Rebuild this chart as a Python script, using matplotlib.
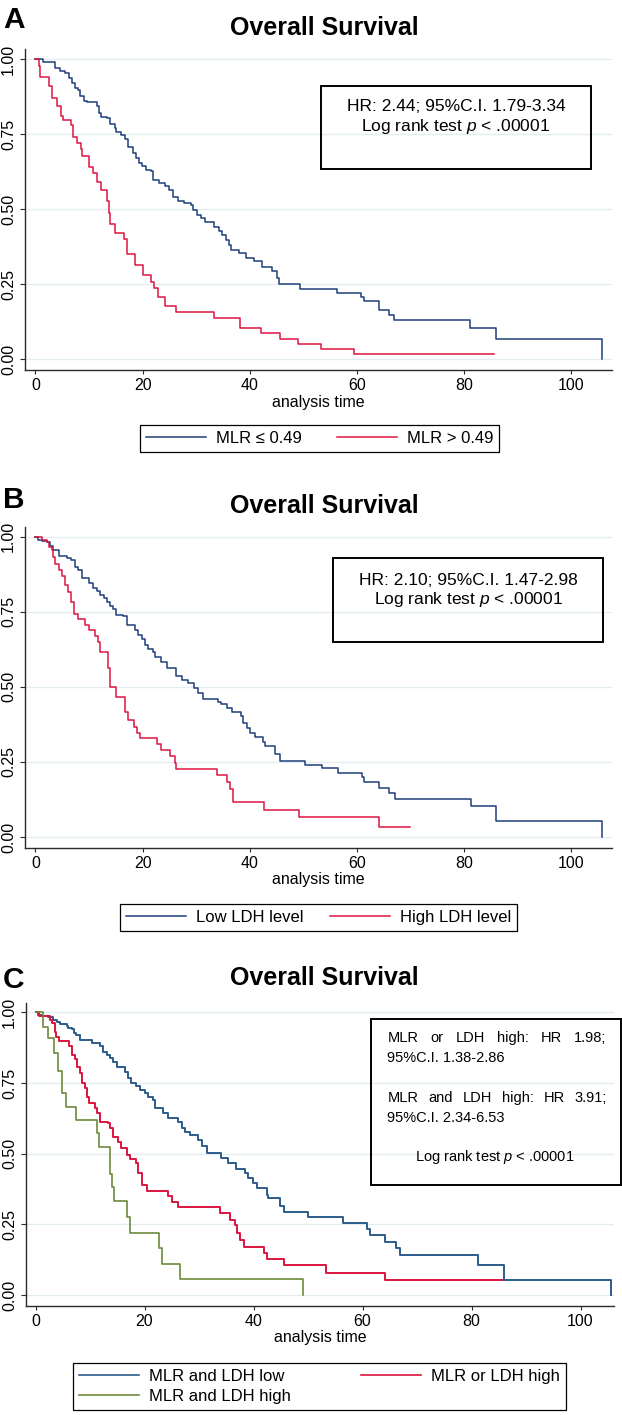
import matplotlib
matplotlib.use('Agg')
import matplotlib.pyplot as plt
from matplotlib.patches import Rectangle
from matplotlib.lines import Line2D

plt.rcParams['font.family'] = ['Liberation Sans', 'DejaVu Sans']
plt.rcParams['mathtext.fontset'] = 'custom'
plt.rcParams['mathtext.it'] = 'Liberation Sans:italic'
plt.rcParams['mathtext.rm'] = 'Liberation Sans'

# ---- data (time in months, survival) ----
# panel A: MLR
a_low_t = [0, 1.5, 3.7, 4.6, 5.6, 6.2, 6.8, 7.4, 8.0, 8.3, 9.0, 9.6, 11.4, 11.9, 12.3, 13.3, 13.9,
           14.8, 15.1, 16.0, 16.7, 17.3, 18.2, 18.8, 19.4, 19.9, 20.7, 21.6, 21.9, 23.1, 24.1, 25.0,
           25.6, 26.5, 27.8, 29.0, 29.3, 30.1, 30.9, 31.7, 33.0, 33.3, 34.3, 34.8, 35.5, 36.1, 36.4,
           38.0, 39.2, 40.7, 42.3, 44.1, 45.0, 45.4, 49.4, 56.3, 60.7, 61.2, 64.0, 65.9, 66.8, 81.1,
           85.9, 105.6]
a_low_s = [1.0, 0.99, 0.97, 0.962, 0.953, 0.937, 0.92, 0.903, 0.898, 0.876, 0.862, 0.856, 0.844,
           0.822, 0.809, 0.803, 0.784, 0.77, 0.759, 0.748, 0.733, 0.709, 0.689, 0.67, 0.653, 0.644,
           0.631, 0.626, 0.598, 0.589, 0.576, 0.564, 0.542, 0.529, 0.522, 0.514, 0.498, 0.481, 0.47,
           0.459, 0.456, 0.442, 0.429, 0.414, 0.398, 0.381, 0.364, 0.353, 0.337, 0.326, 0.309, 0.294,
           0.27, 0.251, 0.234, 0.222, 0.209, 0.194, 0.164, 0.148, 0.131, 0.103, 0.068, 0.0]
a_high_t = [0, 0.6, 0.8, 2.5, 3.1, 4.0, 4.8, 5.2, 6.6, 7.0, 7.7, 8.5, 8.6, 9.9, 10.8, 11.4, 12.2,
            12.3, 13.4, 13.8, 14.0, 14.8, 16.5, 17.1, 18.5, 20.1, 21.6, 22.2, 22.8, 24.1, 26.2, 33.4,
            38.2, 42.1, 45.7, 49.0, 53.2, 59.5, 85.6]
a_high_s = [1.0, 0.976, 0.942, 0.911, 0.87, 0.844, 0.811, 0.796, 0.781, 0.742, 0.72, 0.70, 0.676,
            0.642, 0.62, 0.592, 0.581, 0.564, 0.526, 0.487, 0.451, 0.42, 0.40, 0.351, 0.314, 0.281,
            0.259, 0.237, 0.209, 0.178, 0.156, 0.139, 0.103, 0.087, 0.068, 0.051, 0.033, 0.017, 0.017]

# panel B: LDH
b_low_t = [0, 0.5, 1.15, 2.1, 2.7, 3.3, 4.3, 5.8, 6.7, 7.4, 8.0, 8.6, 9.9, 10.8, 11.4, 12.0, 12.7,
           13.3, 13.9, 14.5, 15.1, 16.4, 17.0, 18.6, 19.2, 19.8, 20.4, 21.0, 22.0, 22.3, 23.5, 24.5,
           26.3, 27.3, 28.5, 29.6, 30.4, 31.3, 34.1, 34.7, 35.7, 36.6, 38.3, 38.8, 39.4, 40.0, 40.9,
           42.5, 42.8, 44.7, 45.6, 50.2, 53.4, 56.5, 60.9, 61.3, 64.1, 66.0, 67.1, 81.2, 86.0, 105.6]
b_low_s = [1.0, 0.989, 0.986, 0.981, 0.967, 0.956, 0.935, 0.929, 0.923, 0.90, 0.887, 0.861, 0.845,
           0.829, 0.817, 0.804, 0.795, 0.782, 0.768, 0.758, 0.74, 0.736, 0.707, 0.69, 0.671, 0.66,
           0.64, 0.625, 0.614, 0.60, 0.583, 0.561, 0.535, 0.522, 0.513, 0.497, 0.478, 0.459, 0.45,
           0.441, 0.428, 0.417, 0.403, 0.378, 0.362, 0.345, 0.334, 0.317, 0.303, 0.276, 0.252, 0.241,
           0.23, 0.213, 0.199, 0.183, 0.164, 0.147, 0.125, 0.103, 0.053, 0.0]
b_high_t = [0, 1.3, 2.1, 2.6, 3.0, 3.3, 3.6, 4.3, 4.9, 5.5, 6.1, 6.7, 7.2, 8.0, 9.2, 9.9, 11.1, 11.7,
            12.0, 13.6, 13.9, 15.1, 16.7, 17.3, 18.3, 18.9, 19.5, 22.6, 23.5, 25.1, 26.0, 26.3, 33.9,
            35.7, 36.2, 36.8, 42.7, 49.2, 64.0, 69.9]
b_high_s = [1.0, 0.987, 0.981, 0.965, 0.956, 0.931, 0.907, 0.889, 0.867, 0.837, 0.815, 0.782, 0.743,
            0.727, 0.705, 0.688, 0.669, 0.649, 0.614, 0.561, 0.50, 0.467, 0.417, 0.389, 0.367, 0.345,
            0.331, 0.31, 0.29, 0.269, 0.247, 0.227, 0.206, 0.183, 0.158, 0.116, 0.09, 0.067, 0.033,
            0.033]

# panel C: combined
c_low_t = [0, 0.5, 1.1, 2.3, 3.2, 3.9, 4.5, 5.7, 6.0, 6.6, 7.0, 7.5, 8.1, 10.3, 11.8, 12.4, 13.1,
           13.6, 14.3, 14.9, 16.4, 17.0, 17.6, 18.5, 19.1, 20.1, 20.7, 21.6, 21.9, 23.4, 24.3, 26.2,
           26.8, 27.4, 28.3, 29.8, 30.5, 31.4, 34.1, 35.4, 36.8, 38.4, 39.0, 39.9, 40.6, 42.4, 42.7,
           44.8, 45.5, 50.0, 56.5, 60.8, 61.3, 64.1, 66.1, 66.9, 81.2, 86.0, 105.5]
c_low_s = [1.0, 0.99, 0.987, 0.982, 0.973, 0.965, 0.958, 0.952, 0.946, 0.94, 0.928, 0.92, 0.902,
           0.893, 0.881, 0.861, 0.849, 0.837, 0.825, 0.808, 0.79, 0.767, 0.751, 0.739, 0.725, 0.713,
           0.699, 0.69, 0.66, 0.645, 0.625, 0.613, 0.59, 0.578, 0.566, 0.548, 0.527, 0.501, 0.486,
           0.466, 0.445, 0.43, 0.413, 0.395, 0.377, 0.354, 0.342, 0.315, 0.295, 0.277, 0.256, 0.232,
           0.212, 0.187, 0.167, 0.141, 0.105, 0.052, 0.0]
c_mid_t = [0, 0.7, 2.6, 3.1, 3.5, 3.8, 4.3, 6.2, 6.6, 7.2, 7.6, 8.1, 8.6, 9.0, 9.5, 9.8, 10.9, 11.3,
           11.9, 13.3, 13.6, 14.3, 15.2, 15.6, 16.8, 17.3, 18.5, 18.8, 19.6, 20.4, 24.3, 25.0, 26.2,
           33.8, 35.7, 36.6, 36.9, 37.6, 38.2, 42.0, 42.4, 45.5, 53.3, 64.1, 85.7]
c_mid_s = [1.0, 0.987, 0.973, 0.961, 0.932, 0.914, 0.90, 0.881, 0.849, 0.834, 0.808, 0.784, 0.751,
           0.731, 0.702, 0.678, 0.66, 0.643, 0.613, 0.607, 0.59, 0.558, 0.542, 0.519, 0.495, 0.48,
           0.466, 0.43, 0.389, 0.369, 0.35, 0.33, 0.313, 0.289, 0.265, 0.248, 0.218, 0.195, 0.169,
           0.147, 0.126, 0.106, 0.077, 0.052, 0.052]
c_high_t = [0, 1.4, 2.3, 3.4, 4.2, 4.8, 5.6, 7.5, 11.2, 11.7, 13.6, 14.1, 14.4, 16.8, 17.4, 22.6,
            23.2, 26.5, 49.1]
c_high_s = [1.0, 0.949, 0.908, 0.857, 0.794, 0.713, 0.664, 0.619, 0.572, 0.525, 0.428, 0.383, 0.333,
            0.277, 0.22, 0.167, 0.111, 0.055, 0.0]

yticks = [0, 0.25, 0.5, 0.75, 1.0]
xticks = [0, 20, 40, 60, 80, 100]

navy = '#1f3f7b'
crimson = '#dc1540'
steel = '#2c5c8c'
olive = '#6d8a3c'

W, H = 622, 1415
fig = plt.figure(figsize=(W / 100, H / 100), dpi=100)


def km_panel(l, t, r, b, xlim, ylim, curves):
    ax = fig.add_axes([l / W, 1 - b / H, (r - l) / W, (b - t) / H])
    for tt, ss, col, lw in curves:
        ax.step(tt, ss, where='post', color=col, lw=lw)
    ax.set_xlim(xlim)
    ax.set_ylim(ylim)
    ax.set_yticks(yticks)
    ax.set_yticklabels(['%.2f' % v for v in yticks], rotation=90, va='center')
    ax.set_xticks(xticks)
    ax.grid(axis='y', color='#e3edf1', lw=1)
    ax.set_axisbelow(True)
    for s in ['top', 'right']:
        ax.spines[s].set_visible(False)
    for s in ['left', 'bottom']:
        ax.spines[s].set_color('#2a2a2a')
        ax.spines[s].set_linewidth(1.0)
    ax.tick_params(axis='y', length=3.5, width=0.8, pad=3, labelsize=11.5, color='#2a2a2a')
    ax.tick_params(axis='x', length=3, width=0.8, pad=3, labelsize=11.5, color='#2a2a2a')
    ax.set_xlabel('analysis time', fontsize=11.5, labelpad=1)
    return ax


def heading(letter, base_letter, base_title):
    fig.text(3 / W, 1 - base_letter / H, letter, fontsize=21.5, fontweight='bold',
             ha='left', va='baseline')
    fig.text(324 / W, 1 - base_title / H, 'Overall Survival', fontsize=18, fontweight='bold',
             ha='center', va='baseline')


def box(x0, y0, x1, y1):
    fig.add_artist(Rectangle((x0 / W, 1 - y1 / H), (x1 - x0) / W, (y1 - y0) / H,
                             transform=fig.transFigure, fill=False, ec='black', lw=1.4))


def justify(words, x0, x1, y, size):
    arts = [fig.text(0, 1 - y / H, w, fontsize=size, ha='left', va='baseline') for w in words]
    rend = fig.canvas.get_renderer()
    widths = [a.get_window_extent(rend).width for a in arts]
    gap = ((x1 - x0) - sum(widths)) / (len(words) - 1)
    x = x0
    for a, w in zip(arts, widths):
        a.set_x(x / W)
        x += w + gap


def legend(handles, labels, cx, cy, ncol, colsp):
    lg = fig.legend(handles, labels, ncol=ncol, loc='center', bbox_to_anchor=(cx / W, 1 - cy / H),
                    frameon=True, fancybox=False, edgecolor='black', framealpha=1, fontsize=12,
                    handlelength=3.6, handletextpad=0.6, columnspacing=colsp, borderpad=0.35,
                    labelspacing=0.3, borderaxespad=0)
    lg.get_frame().set_linewidth(0.9)
    return lg


ylim_ab = (-0.0357, 1.0333)

# ---- Panel A ----
heading('A', 28.3, 35)
km_panel(25, 49.3, 611.7, 370, (-1.95, 107.5), ylim_ab,
         [(a_low_t, a_low_s, navy, 1.1), (a_high_t, a_high_s, crimson, 1.1)])
box(321, 86, 591, 169)
fig.text(456 / W, 1 - 111 / H, 'HR: 2.44; 95%C.I. 1.79-3.34', fontsize=12.5, ha='center', va='baseline')
fig.text(456 / W, 1 - 131 / H, 'Log rank test $p$ < .00001', fontsize=12.5, ha='center', va='baseline')
legend([Line2D([], [], color=navy, lw=1.1), Line2D([], [], color=crimson, lw=1.1)],
       ['MLR ≤ 0.49', 'MLR > 0.49'], 319.5, 438.5, 2, 2.1)

# ---- Panel B ----
heading('B', 508.3, 513)
km_panel(25, 526.5, 611.7, 847.7, (-1.95, 107.5), ylim_ab,
         [(b_low_t, b_low_s, navy, 1.1), (b_high_t, b_high_s, crimson, 1.1)])
box(333.3, 558.3, 603.3, 641.7)
fig.text(468.3 / W, 1 - 585 / H, 'HR: 2.10; 95%C.I. 1.47-2.98', fontsize=12.5, ha='center', va='baseline')
fig.text(468.3 / W, 1 - 604.4 / H, 'Log rank test $p$ < .00001', fontsize=12.5, ha='center', va='baseline')
legend([Line2D([], [], color=navy, lw=1.1), Line2D([], [], color=crimson, lw=1.1)],
       ['Low LDH level', 'High LDH level'], 318.7, 917.2, 2, 1.6)

# ---- Panel C ----
heading('C', 988.3, 985)
km_panel(26, 1002.7, 613.8, 1305.7, (-1.75, 106.1), (-0.0378, 1.034),
         [(c_low_t, c_low_s, steel, 1.4), (c_mid_t, c_mid_s, crimson, 1.4),
          (c_high_t, c_high_s, olive, 1.2)])
box(371, 1019, 620.7, 1185)
justify(['MLR', 'or', 'LDH', 'high:', 'HR', '1.98;'], 387.3, 606.7, 1041.7, 10.5)
fig.text(387.3 / W, 1 - 1061.7 / H, '95%C.I. 1.38-2.86', fontsize=10.5, ha='left', va='baseline')
justify(['MLR', 'and', 'LDH', 'high:', 'HR', '3.91;'], 387.3, 606.7, 1101.7, 10.5)
fig.text(387.3 / W, 1 - 1121.7 / H, '95%C.I. 2.34-6.53', fontsize=10.5, ha='left', va='baseline')
fig.text(495 / W, 1 - 1160.7 / H, 'Log rank test $p$ < .00001', fontsize=10.5, ha='center', va='baseline')
legend([Line2D([], [], color=steel, lw=1.2), Line2D([], [], color=olive, lw=1.2),
        Line2D([], [], color=crimson, lw=1.2)],
       ['MLR and LDH low', 'MLR and LDH high', 'MLR or LDH high'], 319.5, 1386.5, 2, 4.2)

fig.savefig('out.png', dpi=100)
